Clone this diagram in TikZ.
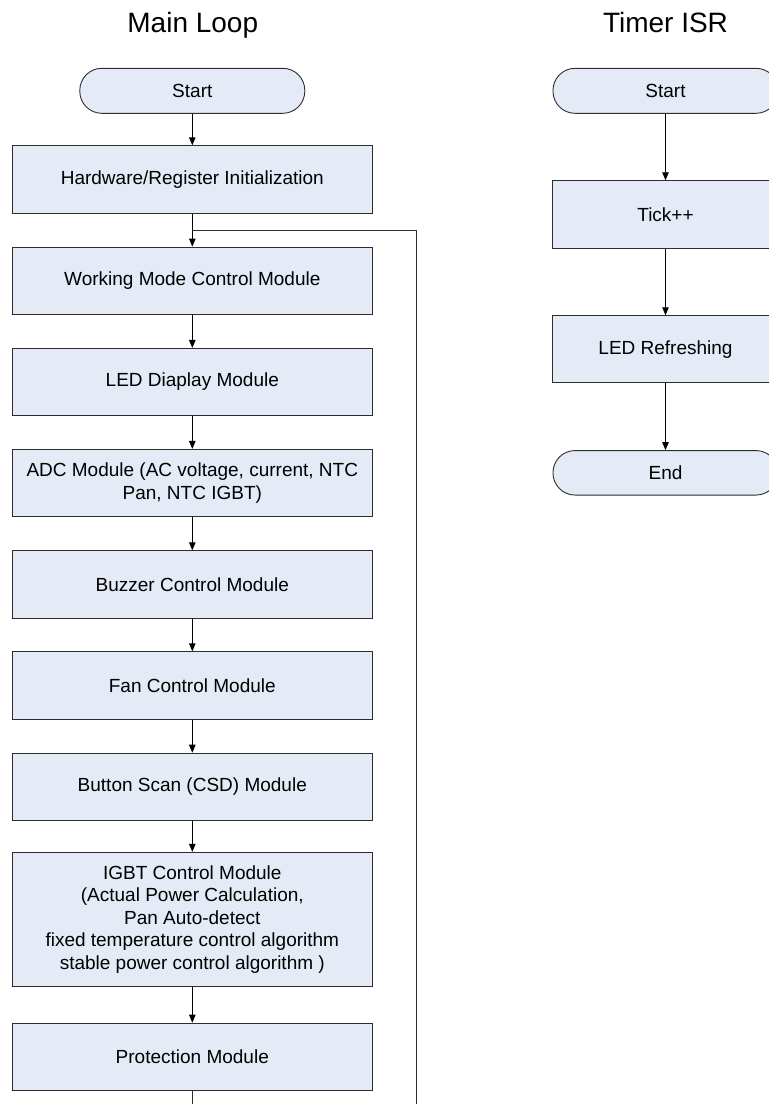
\documentclass[tikz,border=0pt]{standalone}
\usepackage{fontspec}
\setmainfont{Liberation Sans}
\usetikzlibrary{arrows.meta}
\definecolor{boxfill}{RGB}{228,235,246}
\definecolor{boxline}{RGB}{45,45,45}
\begin{document}
\begin{tikzpicture}[x=1bp,y=-1bp,
  proc/.style={draw=boxline, fill=boxfill, line width=0.9bp, rectangle, inner sep=0pt,
    minimum width=360bp, minimum height=67.3bp, align=center,
    font=\fontsize{19bp}{22.5bp}\selectfont},
  term/.style={draw=boxline, fill=boxfill, line width=0.9bp, rectangle, rounded corners=22bp,
    inner sep=0pt, minimum width=225bp, minimum height=45bp, align=center,
    font=\fontsize{19bp}{22.5bp}\selectfont},
  flow/.style={draw=black, line width=0.9bp, -{Triangle[length=8bp,width=6.5bp]}},
  plain/.style={draw=boxline, line width=0.9bp},
  ttl/.style={font=\fontsize{28bp}{30bp}\selectfont, inner sep=0pt, anchor=base}
  ]
\useasboundingbox (0,0) rectangle (769,1104);
\clip (0,0) rectangle (769,1104);

% titles
\node[ttl] (t1) at (192.8,32.3) {Main Loop};
\node[ttl] (t2) at (665.5,32.3) {Timer ISR};

% main loop
\node[term] (ms) at (192.3,90.8) {Start};
\node[proc] (hw) at (192.3,179.4) {Hardware/Register Initialization};
\node[proc] (wm) at (192.3,280.7) {Working Mode Control Module};
\node[proc] (led) at (192.3,382) {LED Diaplay Module};
\node[proc] (adc) at (192.3,483) {ADC Module (AC voltage, current, NTC\\Pan, NTC IGBT)};
\node[proc] (buz) at (192.3,584.4) {Buzzer Control Module};
\node[proc] (fan) at (192.3,685.4) {Fan Control Module};
\node[proc] (btn) at (192.3,786.8) {Button Scan (CSD) Module};
\node[proc, minimum height=134.4bp] (igbt) at (192.3,919.5) {IGBT Control Module\\(Actual Power Calculation,\\Pan Auto-detect\\fixed temperature control algorithm\\stable power control algorithm )};
\node[proc] (prot) at (192.3,1056.8) {Protection Module};

\draw[flow] (ms) -- (hw);
\draw[flow] (hw) -- (wm);
\draw[flow] (wm) -- (led);
\draw[flow] (led) -- (adc);
\draw[flow] (adc) -- (buz);
\draw[flow] (buz) -- (fan);
\draw[flow] (fan) -- (btn);
\draw[flow] (btn) -- (igbt);
\draw[flow] (igbt) -- (prot);

\coordinate (lb) at (192.3,1110);
\coordinate (rb) at (416,1110);
\coordinate (join) at (192.3,230);
\draw[plain] (prot.south) -- (lb);
\draw[plain] (rb) |- (join);

% timer ISR
\node[term] (ts) at (665.5,90.8) {Start};
\node[proc, minimum width=226bp, minimum height=67.6bp] (tick) at (665.5,214.5) {Tick++};
\node[proc, minimum width=226bp, minimum height=67bp] (ref) at (665.5,349.2) {LED Refreshing};
\node[term, minimum height=44.5bp] (te) at (665.5,472.8) {End};

\draw[flow] (ts) -- (tick);
\draw[flow] (tick) -- (ref);
\draw[flow] (ref) -- (te);
\end{tikzpicture}
\end{document}
